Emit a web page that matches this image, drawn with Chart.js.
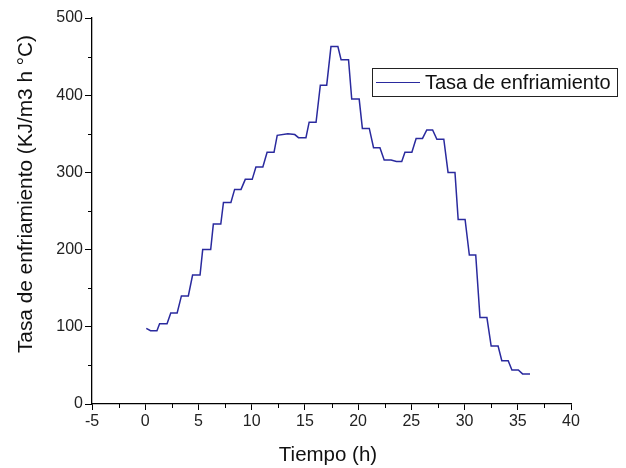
<!DOCTYPE html>
<html>
<head>
<meta charset="utf-8">
<script src="https://cdn.jsdelivr.net/npm/chart.js@4.4.1/dist/chart.umd.min.js"></script>
<style>
  html, body { margin: 0; padding: 0; background: #ffffff; }
  #wrap { width: 626px; height: 468px; position: relative; }
</style>
</head>
<body>
<div id="wrap"><canvas id="c" width="626" height="468"></canvas></div>
<script>
// Data
const seriesLabel = 'Tasa de enfriamiento';
const timeHours = [0.1, 0.5, 1.1, 1.35, 2.05, 2.4, 3.0, 3.4, 4.05, 4.45, 5.15, 5.4, 6.15, 6.4, 7.1, 7.35, 8.05, 8.4, 9.0, 9.4, 10.05, 10.4, 11.05, 11.45, 12.1, 12.4, 13.4, 14.05, 14.4, 15.1, 15.4, 16.05, 16.45, 17.05, 17.45, 18.1, 18.4, 19.1, 19.4, 20.1, 20.4, 21.05, 21.45, 22.05, 22.45, 23.1, 23.6, 24.1, 24.4, 25.05, 25.45, 26.05, 26.45, 27.0, 27.4, 28.05, 28.45, 29.1, 29.4, 30.05, 30.45, 31.05, 31.45, 32.1, 32.5, 33.15, 33.5, 34.1, 34.45, 35.05, 35.45, 36.15];
const coolingRate = [98, 95, 95, 104, 104, 118, 118, 140, 140, 167, 167, 200, 200, 233, 233, 261, 261, 278, 278, 291, 291, 307, 307, 326, 326, 348, 350, 349, 345, 345, 365, 365, 413, 413, 463, 463, 446, 446, 395, 395, 357, 357, 332, 332, 316, 316, 314, 314, 326, 326, 344, 344, 355, 355, 343, 343, 300, 300, 239, 239, 193, 193, 112, 112, 75, 75, 56, 56, 44, 44, 39, 39];
const xTicks = [-5, 0, 5, 10, 15, 20, 25, 30, 35, 40];
const yTicks = [0, 100, 200, 300, 400, 500];
const xTitle = 'Tiempo (h)';
const yTitle = 'Tasa de enfriamiento (KJ/m3 h °C)';

const points = timeHours.map((t, i) => ({ x: t, y: coolingRate[i] }));
const lineColor = '#2a2a9e';
const fontFamily = '"Liberation Sans", Arial, sans-serif';

const minorTicks = {
  id: 'minorTicks',
  afterDraw(chart) {
    const ctx = chart.ctx;
    const xs = chart.scales.x, ys = chart.scales.y;
    ctx.save();
    ctx.strokeStyle = '#000';
    ctx.lineWidth = 1;
    for (let i = 0; i < xTicks.length - 1; i++) {
      const v = (xTicks[i] + xTicks[i + 1]) / 2;
      const px = Math.round(xs.getPixelForValue(v)) + 0.5;
      ctx.beginPath();
      ctx.moveTo(px, ys.bottom);
      ctx.lineTo(px, ys.bottom + 4);
      ctx.stroke();
    }
    for (let i = 0; i < yTicks.length - 1; i++) {
      const v = (yTicks[i] + yTicks[i + 1]) / 2;
      const py = Math.round(ys.getPixelForValue(v)) + 0.5;
      ctx.beginPath();
      ctx.moveTo(xs.left, py);
      ctx.lineTo(xs.left - 4, py);
      ctx.stroke();
    }
    ctx.restore();
  }
};

const axisTitles = {
  id: 'axisTitles',
  afterDraw(chart) {
    const ctx = chart.ctx;
    ctx.save();
    ctx.fillStyle = '#111';
    ctx.textAlign = 'center';
    ctx.textBaseline = 'middle';
    ctx.font = '20.5px ' + fontFamily;
    ctx.fillText(xTitle, 328, 455);
    ctx.translate(26, 194);
    ctx.rotate(-Math.PI / 2);
    ctx.font = '20.8px ' + fontFamily;
    ctx.fillText(yTitle, 0, 0);
    ctx.restore();
  }
};

const boxLegend = {
  id: 'boxLegend',
  afterDraw(chart) {
    const ctx = chart.ctx;
    const ds = chart.data.datasets[0];
    const x0 = 372, y0 = 68, w = 245, h = 28;
    ctx.save();
    ctx.fillStyle = '#fff';
    ctx.fillRect(x0, y0, w, h);
    ctx.strokeStyle = '#222';
    ctx.lineWidth = 1;
    ctx.strokeRect(x0 + 0.5, y0 + 0.5, w, h);
    ctx.strokeStyle = ds.borderColor;
    ctx.lineWidth = 1.2;
    ctx.beginPath();
    ctx.moveTo(376, 82.5);
    ctx.lineTo(420, 82.5);
    ctx.stroke();
    ctx.fillStyle = '#111';
    ctx.font = '20px ' + fontFamily;
    ctx.textBaseline = 'middle';
    ctx.textAlign = 'left';
    ctx.fillText(ds.label, 425, 83);
    ctx.restore();
  }
};

new Chart(document.getElementById('c'), {
  type: 'line',
  data: {
    datasets: [{
      label: seriesLabel,
      data: points,
      borderColor: lineColor,
      borderWidth: 1.5,
      pointRadius: 0,
      fill: false,
      tension: 0
    }]
  },
  options: {
    responsive: false,
    animation: false,
    layout: { padding: { top: 18, right: 55, left: 0, bottom: 0 } },
    plugins: { legend: { display: false }, tooltip: { enabled: false } },
    scales: {
      x: {
        type: 'linear',
        min: -5, max: 40,
        afterBuildTicks(scale) { scale.ticks = xTicks.map(v => ({ value: v })); },
        afterFit(scale) { scale.height = 64; },
        border: { display: true, color: '#000', width: 1.3 },
        grid: { display: true, drawOnChartArea: false, drawTicks: true, tickLength: 6, tickColor: '#000', tickWidth: 1 },
        ticks: { color: '#222', font: { family: fontFamily, size: 16 }, padding: 2, maxRotation: 0 },
        title: { display: false }
      },
      y: {
        type: 'linear',
        min: 0, max: 500,
        afterBuildTicks(scale) { scale.ticks = yTicks.map(v => ({ value: v })); },
        afterFit(scale) { scale.width = 92; },
        border: { display: true, color: '#000', width: 1.3 },
        grid: { display: true, drawOnChartArea: false, drawTicks: true, tickLength: 7, tickColor: '#000', tickWidth: 1 },
        ticks: { color: '#222', font: { family: fontFamily, size: 16 }, padding: 2 },
        title: { display: false }
      }
    }
  },
  plugins: [minorTicks, axisTitles, boxLegend]
});
</script>
</body>
</html>
